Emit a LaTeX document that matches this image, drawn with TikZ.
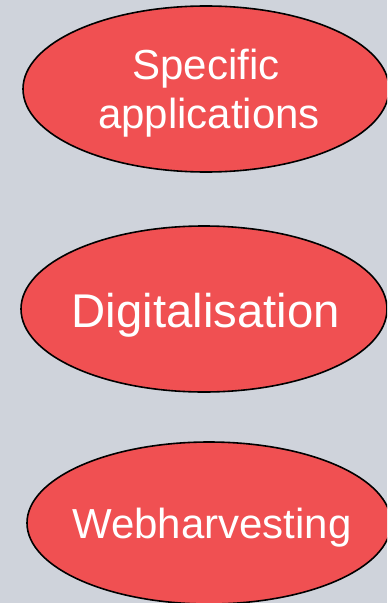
\documentclass[tikz,border=0pt]{standalone}
\usepackage{fontspec}
\setmainfont{Liberation Sans}
\usetikzlibrary{shapes.geometric}
\definecolor{bgc}{RGB}{207,211,219}
\definecolor{ovalfill}{RGB}{240,80,82}
\tikzset{
  oval/.style={ellipse, draw=black, line width=1.2pt, fill=ovalfill, inner sep=0pt},
  lbl/.style={text=white, anchor=base, inner sep=0pt, align=center},
}
\begin{document}
\begin{tikzpicture}[x=0.75pt,y=-0.75pt]
\useasboundingbox (0,0) rectangle (387,603);
\fill[bgc] (0,0) rectangle (387,603);
\begin{scope}
\clip (0,0) rectangle (387,603);
\node[oval, minimum width=366*0.75pt, minimum height=166*0.75pt] (e1) at (206,89) {};
\node[oval, minimum width=366*0.75pt, minimum height=166*0.75pt] (e2) at (204,309) {};
\node[oval, minimum width=364*0.75pt, minimum height=162*0.75pt] (e3) at (209,523) {};
\end{scope}
\node[lbl, font=\fontsize{31.5}{36.5}\selectfont] (t1a) at (206,79) {Specific};
\node[lbl, font=\fontsize{31.5}{36.5}\selectfont] (t1b) at (209,128) {applications};
\node[lbl, font=\fontsize{35.5}{40}\selectfont] (t2) at (206,327) {Digitalisation};
\node[lbl, font=\fontsize{31.5}{36}\selectfont] (t3) at (212,538) {Webharvesting};
\end{tikzpicture}
\end{document}
